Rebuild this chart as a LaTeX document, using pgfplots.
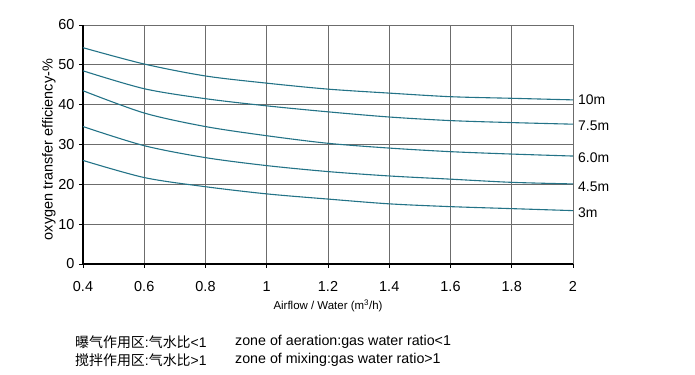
\documentclass[border=0pt]{standalone}
\usepackage{pgfplots}
\pgfplotsset{compat=1.18}
\usepackage{fontspec}
\setmainfont{Liberation Sans}
\newfontfamily\cjk{Noto Sans CJK SC}
\definecolor{curve}{RGB}{35,115,135}
\pgfplotsset{mycurve/.style={color=curve, line width=1.1pt, smooth, mark=none}}
\begin{document}
\begin{tikzpicture}
\path[use as bounding box] (0,0) rectangle (695bp,375bp);
\begin{axis}[
  at={(83bp,111bp)}, anchor=south west,
  scale only axis, width=490bp, height=239bp,
  xmin=0.4, xmax=2, ymin=0, ymax=60,
  xtick={0.4,0.6,...,2.0}, ytick={0,10,...,60},
  xticklabels={0.4,0.6,0.8,1,1.2,1.4,1.6,1.8,2},
  /pgf/number format/assume math mode=true,
  axis x line*=bottom, axis y line*=left,
  axis line style={black, line width=1.1pt, -},
  tick align=outside, major tick length=4bp,
  tick style={black, line width=0.8pt},
  grid=major, major grid style={gray!85!black, line width=0.7pt},
  ticklabel style={font=\fontsize{14.5}{15}\selectfont},
  xticklabel style={yshift=-10bp},
  yticklabel style={xshift=-1bp},
  xlabel={Airflow / Water (m\textsuperscript{3}/h)},
  xlabel style={font=\fontsize{11.5}{12}\selectfont, yshift=-1bp},
  ylabel={oxygen transfer efficiency-\%},
  ylabel style={font=\fontsize{14.5}{15}\selectfont, yshift=-4bp, xshift=-5bp},
  clip=false,
]
\addplot[mycurve] coordinates {(0.4,54.3)(0.6,50.2)(0.8,47.2)(1.0,45.4)(1.2,43.9)(1.4,42.9)(1.6,42.0)(1.8,41.6)(2.0,41.2)};
\addplot[mycurve] coordinates {(0.4,48.5)(0.6,44.0)(0.8,41.5)(1.0,39.7)(1.2,38.2)(1.4,36.9)(1.6,36.0)(1.8,35.5)(2.0,35.1)};
\addplot[mycurve] coordinates {(0.4,43.5)(0.6,37.9)(0.8,34.5)(1.0,32.2)(1.2,30.3)(1.4,29.1)(1.6,28.2)(1.8,27.6)(2.0,27.1)};
\addplot[mycurve] coordinates {(0.4,34.5)(0.6,29.7)(0.8,26.7)(1.0,24.7)(1.2,23.2)(1.4,22.1)(1.6,21.3)(1.8,20.5)(2.0,20.1)};
\addplot[mycurve] coordinates {(0.4,26.0)(0.6,21.7)(0.8,19.4)(1.0,17.6)(1.2,16.3)(1.4,15.1)(1.6,14.4)(1.8,13.9)(2.0,13.4)};
\begin{scope}[every node/.style={anchor=west, font=\fontsize{14}{15}\selectfont, inner sep=0pt, xshift=5bp}]
\node at (axis cs:2,41.2) {10m};
\node at (axis cs:2,34.7) {7.5m};
\node at (axis cs:2,26.6) {6.0m};
\node at (axis cs:2,19.3) {4.5m};
\node at (axis cs:2,12.8) {3m};
\end{scope}
\end{axis}
\node[anchor=west, inner sep=0pt, font=\fontsize{14}{15}\selectfont] at (75bp,33bp) {{\cjk 曝气作用区}:{\cjk 气水比}<1};
\node[anchor=west, inner sep=0pt, font=\fontsize{14}{15}\selectfont] at (75bp,15bp) {{\cjk 搅拌作用区}:{\cjk 气水比}>1};
\node[anchor=west, inner sep=0pt, font=\fontsize{14.3}{15}\selectfont] at (235bp,33bp) {zone of aeration:gas water ratio<1};
\node[anchor=west, inner sep=0pt, font=\fontsize{14.3}{15}\selectfont] at (235bp,15bp) {zone of mixing:gas water ratio>1};
\end{tikzpicture}
\end{document}
